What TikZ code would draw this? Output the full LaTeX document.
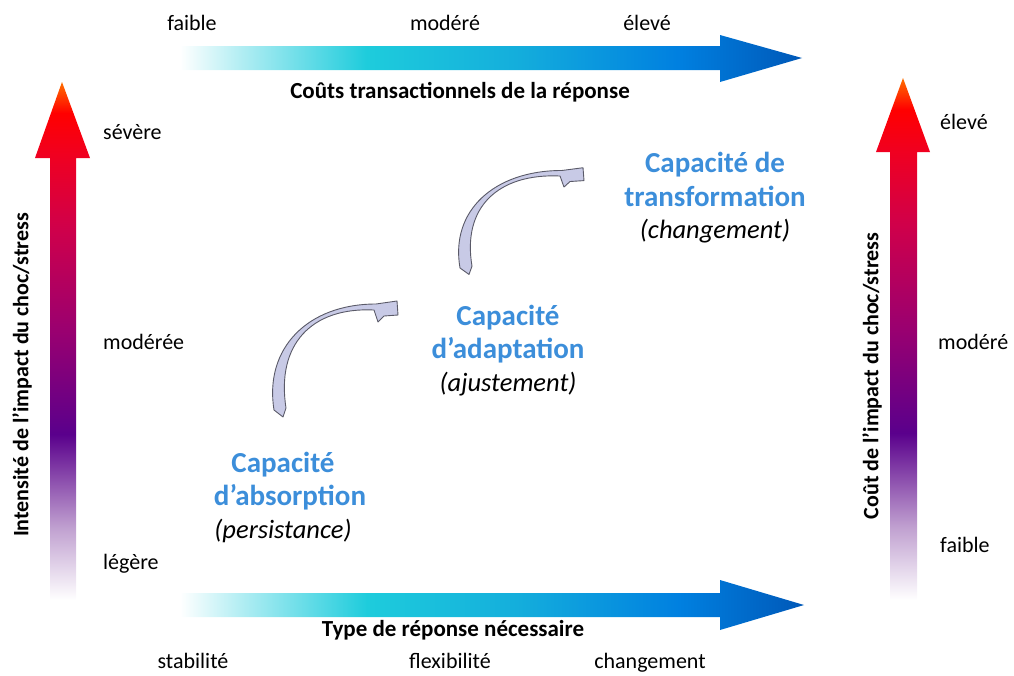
\documentclass[tikz,border=0pt]{standalone}
\usepackage{fontspec}
\setmainfont{Carlito}
\usepackage{tikz}
\usetikzlibrary{positioning}

\definecolor{capblue}{RGB}{60,142,218}
\definecolor{arcfill}{RGB}{200,202,230}
\definecolor{arcdraw}{RGB}{90,90,104}
\definecolor{cyanA}{RGB}{30,204,220}
\definecolor{blueA}{RGB}{20,174,220}
\definecolor{blueB}{RGB}{0,128,224}
\definecolor{blueC}{RGB}{0,88,184}
\definecolor{lavA}{RGB}{192,160,208}
\definecolor{purA}{RGB}{90,0,140}
\definecolor{magA}{RGB}{154,0,112}
\definecolor{crimA}{RGB}{208,0,74}
\definecolor{redA}{RGB}{240,0,32}
\definecolor{oraA}{RGB}{255,112,0}

\pgfdeclarehorizontalshading{reponse}{100bp}{color(0bp)=(white); color(25bp)=(white);
	color(30bp)=(cyanA!35); color(40bp)=(cyanA); color(52bp)=(blueA);
	color(65bp)=(blueB); color(75bp)=(blueC); color(100bp)=(blueC)}
\pgfdeclareverticalshading{impact}{100bp}{color(0bp)=(white); color(25bp)=(white);
	color(32bp)=(lavA); color(41bp)=(purA); color(51bp)=(magA);
	color(61bp)=(crimA); color(68bp)=(redA); color(72bp)=(red);
	color(75bp)=(oraA); color(100bp)=(oraA)}

\tikzset{
	lbl/.style={inner sep=0pt, font=\fontsize{22}{26}\selectfont},
	axetitre/.style={inner sep=0pt, font=\fontsize{23}{27}\selectfont\bfseries},
	axevert/.style={inner sep=0pt, rotate=90, font=\fontsize{22}{26}\selectfont\bfseries},
	capa/.style={inner sep=0pt, text=capblue, font=\fontsize{29}{34}\selectfont\bfseries},
	capsub/.style={inner sep=0pt, font=\fontsize{26.5}{30}\selectfont\itshape},
	capaarc/.style={fill=arcfill, draw=arcdraw, line width=0.9pt, line join=round},
	fleche/.style={draw=none},
}

\begin{document}
\begin{tikzpicture}[x=1pt, y=-1pt]
	\useasboundingbox (0,0) rectangle (1014,675);
	% horizontal arrows
	\shade[fleche, shading=reponse] (180,46) -- (720,46) -- (720,35) -- (802,58)
		-- (720,82) -- (720,70) -- (180,70) -- cycle;
	\shade[fleche, shading=reponse] (180,593) -- (720,593) -- (720,580) -- (804,605)
		-- (720,630) -- (720,617) -- (180,617) -- cycle;
	% vertical arrows
	\shade[fleche, shading=impact] (50,600) -- (50,158) -- (35,158) -- (62,82)
		-- (90,158) -- (76,158) -- (76,600) -- cycle;
	\shade[fleche, shading=impact] (890,600) -- (890,152) -- (876,152) -- (903,78)
		-- (930,152) -- (917,152) -- (917,600) -- cycle;
	% curved arrows
	\foreach \bx/\by/\sy in {274/410/1, 460/268/0.92}{
		\begin{scope}[shift={(\bx,\by)}, yscale=\sy]
			\draw[capaarc] (0,0) .. controls (-10,-62) and (34,-106) .. (102,-106)
				-- (123,-109) -- (124,-95) -- (110,-94) -- (104,-88) -- (100,-100)
				.. controls (38,-103) and (2,-66) .. (12,-2) -- (9,7) -- cycle;
		\end{scope}
	}
	% top scale
	\node[lbl, anchor=base] (cfaible) at (192,30) {faible};
	\node[lbl, anchor=base] (cmodere) at (445,30) {modéré};
	\node[lbl, anchor=base] (celeve) at (647,30) {élevé};
	\node[axetitre, anchor=base] (couts) at (460,98) {Coûts transactionnels de la réponse};
	% bottom scale
	\node[axetitre, anchor=base] (type) at (453,636) {Type de réponse nécessaire};
	\node[lbl, anchor=base] (stabilite) at (193,668) {stabilité};
	\node[lbl, anchor=base] (flexibilite) at (450,668) {flexibilité};
	\node[lbl, anchor=base] (changement) at (650,668) {changement};
	% left scale
	\node[axevert] (intensite) at (22,375) {Intensité de l'impact du choc/stress};
	\node[lbl, anchor=base west] (severe) at (103,139) {sévère};
	\node[lbl, anchor=base west] (moderee) at (103,349) {modérée};
	\node[lbl, anchor=base west] (legere) at (103,569) {légère};
	% right scale
	\node[axevert] (cout) at (872,376) {Coût de l'impact du choc/stress};
	\node[lbl, anchor=base west] (ieleve) at (940,129) {élevé};
	\node[lbl, anchor=base west] (imodere) at (938,349) {modéré};
	\node[lbl, anchor=base west] (ifaible) at (940,552) {faible};
	% capacities
	\node[capa, anchor=base] (transfoA) at (715,172) {Capacité de};
	\node[capa, anchor=base] (transfoB) at (715,206) {transformation};
	\node[capsub, anchor=base] (transfoC) at (715,238) {(changement)};
	\node[capa, anchor=base] (adaptA) at (508,325) {Capacité};
	\node[capa, anchor=base] (adaptB) at (508,358) {d’adaptation};
	\node[capsub, anchor=base] (adaptC) at (508,391) {(ajustement)};
	\node[capa, anchor=base] (absorA) at (283,472) {Capacité};
	\node[capa, anchor=base] (absorB) at (290,505) {d’absorption};
	\node[capsub, anchor=base] (absorC) at (283,538) {(persistance)};
\end{tikzpicture}
\end{document}
